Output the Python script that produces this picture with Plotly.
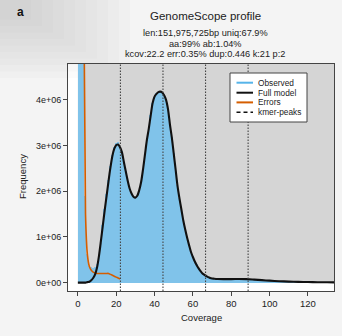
import plotly.graph_objects as go

# ---------------- data ----------------
# first three coverage values run off the top of the chart; recorded as just above the axis limit
obs_cov = list(range(1, 135))
obs_freq_m = [9.0, 8.0, 6.0, 1.9, 0.62, 0.37, 0.34, 0.33, 0.34, 0.41,
              0.6, 0.92, 1.26, 1.6, 1.93, 2.25, 2.55, 2.8, 2.97, 3.06,
              3.08, 3.0, 2.87, 2.65, 2.44, 2.24, 2.07, 1.96, 1.89, 1.87,
              1.91, 2.03, 2.21, 2.49, 2.8, 3.12, 3.37, 3.66, 3.93, 4.07,
              4.14, 4.18, 4.19, 4.17, 4.1, 3.99, 3.79, 3.47, 3.18, 2.84,
              2.48, 2.13, 1.86, 1.62, 1.38, 1.18, 1.0, 0.84, 0.69, 0.58,
              0.48, 0.4, 0.33, 0.27, 0.22, 0.18, 0.15, 0.13, 0.11, 0.1,
              0.09, 0.085, 0.08, 0.078, 0.077, 0.077, 0.078, 0.078, 0.079, 0.079,
              0.08, 0.08, 0.079, 0.079, 0.078, 0.077, 0.076, 0.075, 0.073, 0.071,
              0.068, 0.065, 0.062, 0.059, 0.056, 0.053, 0.05, 0.048, 0.045, 0.043,
              0.041, 0.038, 0.036, 0.034, 0.032, 0.03, 0.028, 0.026, 0.025, 0.023,
              0.022, 0.021, 0.02, 0.018, 0.017, 0.016, 0.015, 0.014, 0.013, 0.013,
              0.012, 0.011, 0.011, 0.01, 0.01, 0.009, 0.009, 0.008, 0.008, 0.007,
              0.007, 0.007, 0.006, 0.006]

model_cov = list(range(0, 74)) + [76, 80, 84, 88, 92, 96, 100, 105, 110, 115, 120, 125, 130, 134]
model_freq_m = [0.0, 0.0, 0.0, 0.0, 0.0, 0.01, 0.02, 0.05, 0.1, 0.18,
                0.33, 0.58, 0.9, 1.24, 1.58, 1.9, 2.22, 2.52, 2.77, 2.93,
                3.01, 3.02, 2.96, 2.85, 2.64, 2.43, 2.23, 2.06, 1.95, 1.88,
                1.86, 1.9, 2.02, 2.2, 2.48, 2.8, 3.12, 3.37, 3.66, 3.93,
                4.07, 4.13, 4.17, 4.18, 4.16, 4.1, 4.0, 3.8, 3.47, 3.18,
                2.83, 2.47, 2.11, 1.84, 1.6, 1.36, 1.16, 0.98, 0.82, 0.67,
                0.56, 0.46, 0.38, 0.31, 0.25, 0.2, 0.17, 0.14, 0.12, 0.1,
                0.09, 0.085, 0.08, 0.077,
                0.075, 0.076, 0.078, 0.076, 0.065, 0.053, 0.042, 0.03, 0.022, 0.016,
                0.012, 0.009, 0.007, 0.005]

err_cov = list(range(3, 23))
err_freq_m = [6.8, 1.5, 0.6, 0.35, 0.27, 0.23, 0.21, 0.2,
              0.2, 0.2, 0.2, 0.2, 0.2, 0.2, 0.18, 0.16, 0.14, 0.12,
              0.1, 0.08]

kmer_peaks = [22.2, 44.4, 66.6, 88.8]

y_ticks = [0, 1e6, 2e6, 3e6, 4e6]
y_ticktext = ["0e+00", "1e+06", "2e+06", "3e+06", "4e+06"]
x_ticks = [0, 20, 40, 60, 80, 100, 120]

title = "GenomeScope profile"
subtitle_lines = ["len:151,975,725bp uniq:67.9%",
                  "aa:99% ab:1.04%",
                  "kcov:22.2 err:0.35% dup:0.446 k:21 p:2"]
legend_labels = ["Observed", "Full model", "Errors", "kmer-peaks"]

# ---------------- styles ----------------
FONT = "Liberation Sans, Arial, sans-serif"
C_HIST = "#80c3ea"
C_BG = "#d5d5d5"
C_MODEL = "#111111"
C_ERR = "#D55E00"
C_TXT = "#222222"
C_AX = "#444444"

W, H = 342, 336
L, R, T, B = 68, 8, 64, 45
pw, ph = W - L - R, H - T - B


def px2paper(x, y):
    return (x - L) / pw, (H - B - y) / ph


fig = go.Figure()

fig.add_trace(go.Bar(x=obs_cov, y=[v * 1e6 for v in obs_freq_m], width=0.82,
                     marker=dict(color=C_HIST, line=dict(width=0)),
                     showlegend=False))
fig.add_trace(go.Scatter(x=err_cov, y=[v * 1e6 for v in err_freq_m], mode="lines",
                         line=dict(color=C_ERR, width=1.6, shape="spline", smoothing=0.5),
                         showlegend=False))
fig.add_trace(go.Scatter(x=model_cov, y=[v * 1e6 for v in model_freq_m], mode="lines",
                         line=dict(color=C_MODEL, width=2.1, shape="spline", smoothing=0.8),
                         showlegend=False))

# gray background rectangle starting at the data origin
fig.add_shape(type="rect", xref="x", yref="y", x0=0, y0=0, x1=140, y1=5e6,
              fillcolor=C_BG, line=dict(width=0), layer="below")

for p in kmer_peaks:
    fig.add_vline(x=p, line=dict(color="#444444", width=1.1, dash="1.5px,1.5px"))

# soft photographic shading in the top-left corner of the page
for k in range(10):
    cx, cy = 130 - 11 * k, 78 - 6.5 * k
    x1p, y1p = px2paper(cx, cy)
    x0p, y0p = px2paper(0, 0)
    fig.add_shape(type="rect", xref="paper", yref="paper", x0=x0p, y0=y1p, x1=x1p, y1=y0p,
                  fillcolor="#9a9a9a", opacity=0.045, line=dict(width=0), layer="below")

# titles
fig.add_annotation(text=title, xref="paper", yref="paper",
                   x=px2paper(205, 0)[0], y=px2paper(0, 16)[1],
                   showarrow=False, xanchor="center", yanchor="middle",
                   font=dict(family=FONT, size=11.5, color=C_TXT))
for line, yy in zip(subtitle_lines, [33.3, 43.7, 54.3]):
    fig.add_annotation(text=line, xref="paper", yref="paper",
                       x=px2paper(205, 0)[0], y=px2paper(0, yy)[1],
                       showarrow=False, xanchor="center", yanchor="middle",
                       font=dict(family=FONT, size=9.2, color=C_TXT))
fig.add_annotation(text="<b>a</b>", xref="paper", yref="paper",
                   x=px2paper(20, 0)[0], y=px2paper(0, 12)[1],
                   showarrow=False, xanchor="center", yanchor="middle",
                   font=dict(family=FONT, size=12, color="#111111"))

# axis titles
fig.add_annotation(text="Coverage", xref="paper", yref="paper",
                   x=px2paper(201, 0)[0], y=px2paper(0, 317)[1],
                   showarrow=False, xanchor="center", yanchor="middle",
                   font=dict(family=FONT, size=9.5, color=C_TXT))
fig.add_annotation(text="Frequency", xref="paper", yref="paper", textangle=-90,
                   x=px2paper(22, 0)[0], y=px2paper(0, 177)[1],
                   showarrow=False, xanchor="center", yanchor="middle",
                   font=dict(family=FONT, size=9.5, color=C_TXT))

# custom legend
lx0, ly0 = px2paper(230, 73)
lx1, ly1 = px2paper(307, 122)
fig.add_shape(type="rect", xref="paper", yref="paper", x0=lx0, y0=ly1, x1=lx1, y1=ly0,
              fillcolor="white", line=dict(color=C_AX, width=1), layer="above")
leg_styles = [dict(color="#56B4E9", width=2, dash="solid"),
              dict(color=C_MODEL, width=2, dash="solid"),
              dict(color=C_ERR, width=2, dash="solid"),
              dict(color=C_MODEL, width=1.6, dash="4px,3px")]
for lab, yy, st in zip(legend_labels, [82.7, 92.7, 102.4, 112.3], leg_styles):
    a0, b0 = px2paper(236.5, yy)
    a1, _ = px2paper(253, yy)
    fig.add_shape(type="line", xref="paper", yref="paper", x0=a0, y0=b0, x1=a1, y1=b0,
                  line=st, layer="above")
    tx, _ = px2paper(256, yy)
    fig.add_annotation(text=lab, xref="paper", yref="paper", x=tx, y=b0,
                       showarrow=False, xanchor="left", yanchor="middle",
                       font=dict(family=FONT, size=8.3, color=C_TXT))

fig.update_xaxes(range=[-5.14, 133.6], tickvals=x_ticks, ticks="outside", ticklen=4,
                 tickcolor=C_AX, showline=True, linecolor=C_AX, linewidth=1, mirror=True,
                 showgrid=False, zeroline=False,
                 tickfont=dict(family=FONT, size=9.5, color=C_TXT))
fig.update_yaxes(range=[-0.184e6, 4.784e6], tickvals=y_ticks, ticktext=y_ticktext,
                 ticks="outside", ticklen=4, tickcolor=C_AX, showline=True,
                 linecolor=C_AX, linewidth=1, mirror=True, showgrid=False, zeroline=False,
                 tickfont=dict(family=FONT, size=9, color=C_TXT))

fig.update_layout(width=W, height=H, autosize=False,
                  margin=dict(l=L, r=R, t=T, b=B, pad=0),
                  paper_bgcolor="#f4f4f4", plot_bgcolor="white",
                  bargap=0, showlegend=False)

fig.write_html("out.html")
